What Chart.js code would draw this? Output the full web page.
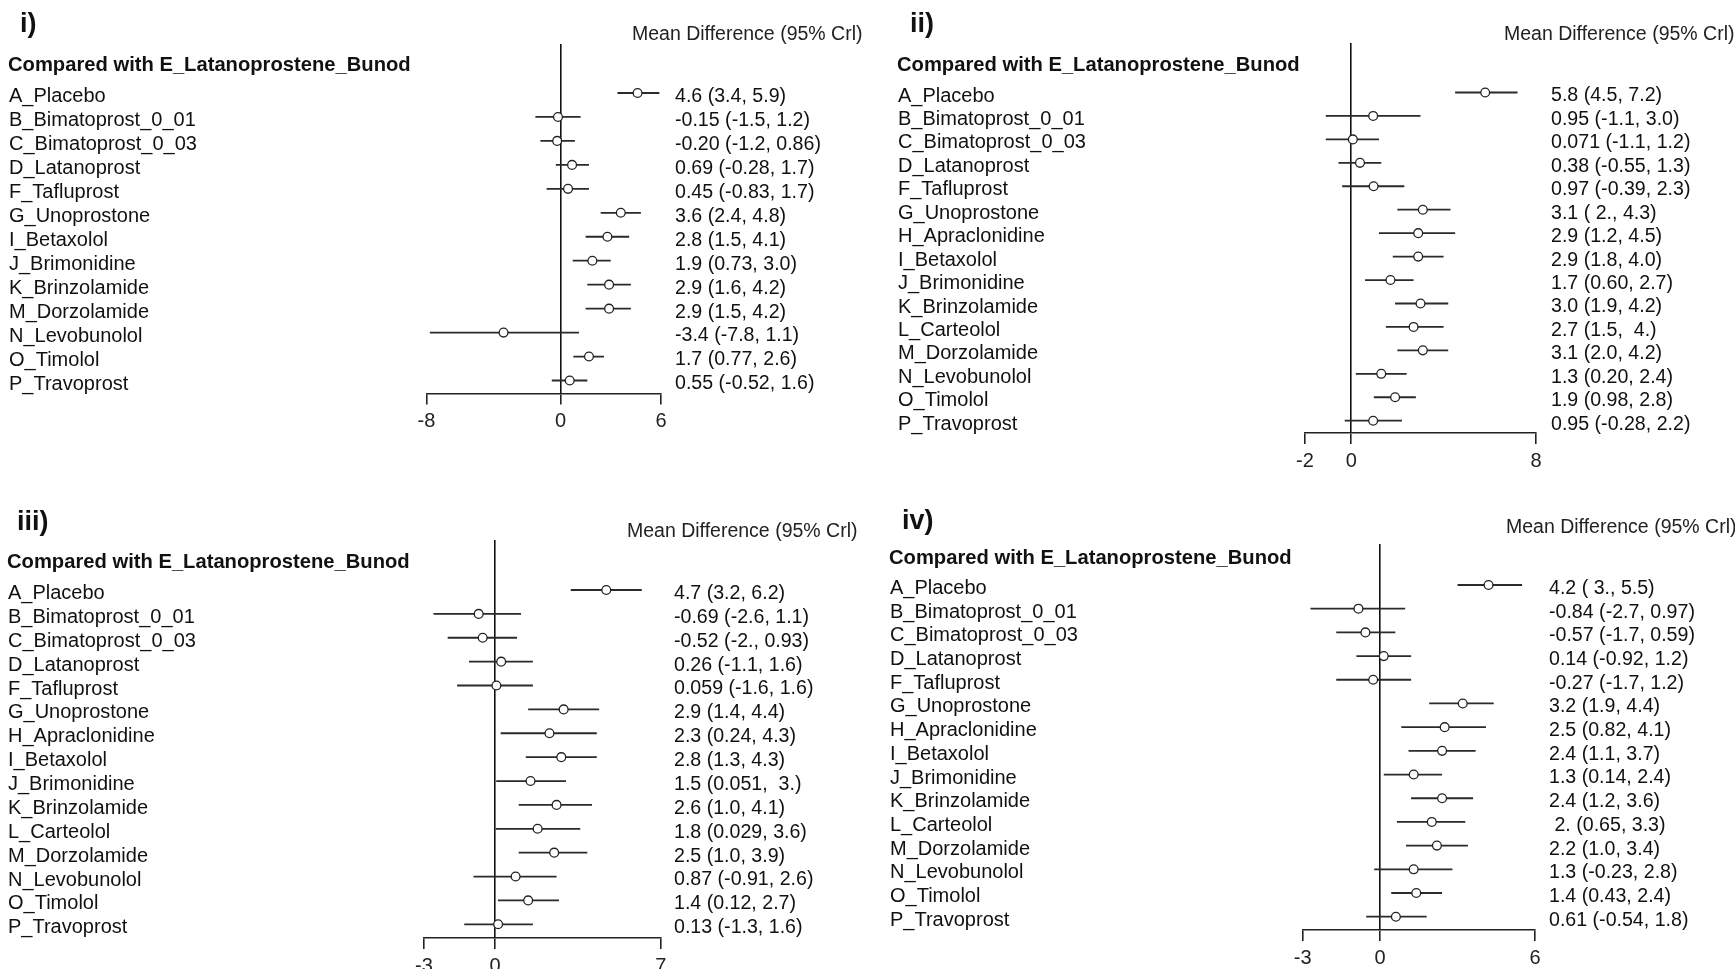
<!DOCTYPE html>
<html>
<head>
<meta charset="utf-8">
<script src="https://cdn.jsdelivr.net/npm/chart.js@4/dist/chart.umd.min.js"></script>
<style>
  html, body { margin: 0; padding: 0; background: #fff; overflow: hidden; }
  #wrap { position: relative; width: 1735px; height: 969px; }
  canvas { position: absolute; left: 0; top: 0; }
  .t { position: absolute; white-space: pre; color: #111; font-family: 'Liberation Sans', Arial, sans-serif; line-height: 1; }
  .num { font-weight: bold; font-size: 27px; }
  .hdr { font-weight: bold; font-size: 20.2px; }
  .md { font-size: 19.5px; color: #222; }
</style>
</head>
<body>
<div id="wrap">
  <canvas id="c1" width="1735" height="969"></canvas>
  <canvas id="c2" width="1735" height="969"></canvas>
  <canvas id="c3" width="1735" height="969"></canvas>
  <canvas id="c4" width="1735" height="969"></canvas>
</div>
<script>
// ---------- DATA ----------
const panelNames = ['i)', 'ii)', 'iii)', 'iv)'];
const headerText = 'Compared with E_Latanoprostene_Bunod';
const effectTitle = 'Mean Difference (95% Crl)';

const rows13 = ['A_Placebo','B_Bimatoprost_0_01','C_Bimatoprost_0_03','D_Latanoprost','F_Tafluprost','G_Unoprostone','I_Betaxolol','J_Brimonidine','K_Brinzolamide','M_Dorzolamide','N_Levobunolol','O_Timolol','P_Travoprost'];
const rows15 = ['A_Placebo','B_Bimatoprost_0_01','C_Bimatoprost_0_03','D_Latanoprost','F_Tafluprost','G_Unoprostone','H_Apraclonidine','I_Betaxolol','J_Brimonidine','K_Brinzolamide','L_Carteolol','M_Dorzolamide','N_Levobunolol','O_Timolol','P_Travoprost'];

// Panel i
const mean1 = [4.6, -0.15, -0.20, 0.69, 0.45, 3.6, 2.8, 1.9, 2.9, 2.9, -3.4, 1.7, 0.55];
const low1  = [3.4, -1.5, -1.2, -0.28, -0.83, 2.4, 1.5, 0.73, 1.6, 1.5, -7.8, 0.77, -0.52];
const high1 = [5.9, 1.2, 0.86, 1.7, 1.7, 4.8, 4.1, 3.0, 4.2, 4.2, 1.1, 2.6, 1.6];
const text1 = ['4.6 (3.4, 5.9)','-0.15 (-1.5, 1.2)','-0.20 (-1.2, 0.86)','0.69 (-0.28, 1.7)','0.45 (-0.83, 1.7)','3.6 (2.4, 4.8)','2.8 (1.5, 4.1)','1.9 (0.73, 3.0)','2.9 (1.6, 4.2)','2.9 (1.5, 4.2)','-3.4 (-7.8, 1.1)','1.7 (0.77, 2.6)','0.55 (-0.52, 1.6)'];
const ticks1 = [-8, 0, 6];

// Panel ii
const mean2 = [5.8, 0.95, 0.071, 0.38, 0.97, 3.1, 2.9, 2.9, 1.7, 3.0, 2.7, 3.1, 1.3, 1.9, 0.95];
const low2  = [4.5, -1.1, -1.1, -0.55, -0.39, 2.0, 1.2, 1.8, 0.60, 1.9, 1.5, 2.0, 0.20, 0.98, -0.28];
const high2 = [7.2, 3.0, 1.2, 1.3, 2.3, 4.3, 4.5, 4.0, 2.7, 4.2, 4.0, 4.2, 2.4, 2.8, 2.2];
const text2 = ['5.8 (4.5, 7.2)','0.95 (-1.1, 3.0)','0.071 (-1.1, 1.2)','0.38 (-0.55, 1.3)','0.97 (-0.39, 2.3)','3.1 ( 2., 4.3)','2.9 (1.2, 4.5)','2.9 (1.8, 4.0)','1.7 (0.60, 2.7)','3.0 (1.9, 4.2)','2.7 (1.5,  4.)','3.1 (2.0, 4.2)','1.3 (0.20, 2.4)','1.9 (0.98, 2.8)','0.95 (-0.28, 2.2)'];
const ticks2 = [-2, 0, 8];

// Panel iii
const mean3 = [4.7, -0.69, -0.52, 0.26, 0.059, 2.9, 2.3, 2.8, 1.5, 2.6, 1.8, 2.5, 0.87, 1.4, 0.13];
const low3  = [3.2, -2.6, -2.0, -1.1, -1.6, 1.4, 0.24, 1.3, 0.051, 1.0, 0.029, 1.0, -0.91, 0.12, -1.3];
const high3 = [6.2, 1.1, 0.93, 1.6, 1.6, 4.4, 4.3, 4.3, 3.0, 4.1, 3.6, 3.9, 2.6, 2.7, 1.6];
const text3 = ['4.7 (3.2, 6.2)','-0.69 (-2.6, 1.1)','-0.52 (-2., 0.93)','0.26 (-1.1, 1.6)','0.059 (-1.6, 1.6)','2.9 (1.4, 4.4)','2.3 (0.24, 4.3)','2.8 (1.3, 4.3)','1.5 (0.051,  3.)','2.6 (1.0, 4.1)','1.8 (0.029, 3.6)','2.5 (1.0, 3.9)','0.87 (-0.91, 2.6)','1.4 (0.12, 2.7)','0.13 (-1.3, 1.6)'];
const ticks3 = [-3, 0, 7];

// Panel iv
const mean4 = [4.2, -0.84, -0.57, 0.14, -0.27, 3.2, 2.5, 2.4, 1.3, 2.4, 2.0, 2.2, 1.3, 1.4, 0.61];
const low4  = [3.0, -2.7, -1.7, -0.92, -1.7, 1.9, 0.82, 1.1, 0.14, 1.2, 0.65, 1.0, -0.23, 0.43, -0.54];
const high4 = [5.5, 0.97, 0.59, 1.2, 1.2, 4.4, 4.1, 3.7, 2.4, 3.6, 3.3, 3.4, 2.8, 2.4, 1.8];
const text4 = ['4.2 ( 3., 5.5)','-0.84 (-2.7, 0.97)','-0.57 (-1.7, 0.59)','0.14 (-0.92, 1.2)','-0.27 (-1.7, 1.2)','3.2 (1.9, 4.4)','2.5 (0.82, 4.1)','2.4 (1.1, 3.7)','1.3 (0.14, 2.4)','2.4 (1.2, 3.6)',' 2. (0.65, 3.3)','2.2 (1.0, 3.4)','1.3 (-0.23, 2.8)','1.4 (0.43, 2.4)','0.61 (-0.54, 1.8)'];
const ticks4 = [-3, 0, 6];

// ---------- LAYOUT (pixel positions of each panel) ----------
const W = 1735, H = 969;
const FONT = "'Liberation Sans', Arial, sans-serif";
const TEXT_DROP = 3.5; // row text sits slightly below its marks
const layouts = [
  { labelX: 9,   plotLeft: 426.5, plotRight: 661,   valueX: 675,  top: 44,  firstY: 93,  lastY: 380.5, axisY: 393.5,
    numX: 20, numY: 23, hdrX: 8, hdrY: 64, mdX: 632, mdY: 34 },
  { labelX: 898, plotLeft: 1305,  plotRight: 1536,  valueX: 1551, top: 43,  firstY: 92.5, lastY: 420.7, axisY: 433,
    numX: 910, numY: 23, hdrX: 897, hdrY: 64, mdX: 1504, mdY: 34 },
  { labelX: 8,   plotLeft: 424,   plotRight: 660.7, valueX: 674,  top: 540, firstY: 590, lastY: 924.3, axisY: 938,
    numX: 17, numY: 521, hdrX: 7, hdrY: 561, mdX: 627, mdY: 531 },
  { labelX: 890, plotLeft: 1302.7, plotRight: 1535, valueX: 1549, top: 544, firstY: 585, lastY: 916.7, axisY: 930,
    numX: 902, numY: 520, hdrX: 889, hdrY: 557, mdX: 1506, mdY: 527 }
];

function addText(cls, txt, x, cy, size) {
  const d = document.createElement('div');
  d.className = 't ' + cls;
  d.textContent = txt;
  d.style.left = x + 'px';
  d.style.top = (cy - 0.49 * size) + 'px';
  document.getElementById('wrap').appendChild(d);
}

function makePanel(canvasId, L, rows, mean, lo, hi, texts, xTicks) {
  const n = rows.length;
  const pitch = (L.lastY - L.firstY) / (n - 1);
  const yMin = -(L.firstY - L.top) / pitch;
  const yMax = (n - 1) + (L.axisY - L.lastY) / pitch;
  const off = TEXT_DROP / pitch;
  const idx = rows.map((_, i) => i);
  const ciData = [];
  idx.forEach(i => { ciData.push({ x: lo[i], y: i }, { x: hi[i], y: i }, { x: null, y: null }); });
  const ptData = idx.map(i => ({ x: mean[i], y: i }));
  const rowTicks = s => { s.ticks = idx.map(v => ({ value: v })); };

  new Chart(document.getElementById(canvasId), {
    type: 'scatter',
    data: {
      datasets: [
        { data: ptData, order: 0, pointRadius: 4.4, pointBorderWidth: 1.3,
          pointBackgroundColor: '#fff', pointBorderColor: '#222', pointStyle: 'circle', showLine: false, clip: false },
        { data: ciData, order: 1, showLine: true, spanGaps: false, pointRadius: 0,
          borderColor: '#2a2a2a', borderWidth: 1.8, clip: false }
      ]
    },
    options: {
      responsive: false, animation: false, events: [],
      layout: { padding: { left: L.labelX, top: L.top, right: 0, bottom: 0 } },
      plugins: { legend: { display: false }, tooltip: { enabled: false } },
      scales: {
        x: {
          type: 'linear', position: 'bottom', min: xTicks[0], max: xTicks[xTicks.length - 1],
          afterBuildTicks: s => { s.ticks = xTicks.map(v => ({ value: v })); },
          afterFit: s => { s.height = H - L.axisY; },
          grid: {
            drawOnChartArea: true, drawTicks: true, tickLength: 11, tickColor: '#222', tickWidth: 1.6,
            lineWidth: 1.6, color: c => (c.tick && c.tick.value === 0) ? '#111' : 'rgba(0,0,0,0)'
          },
          border: { display: true, color: '#222', width: 1.6 },
          ticks: { font: { family: FONT, size: 20 }, color: '#222', padding: 5, autoSkip: false, maxRotation: 0,
                   callback: v => String(v) }
        },
        y: {
          type: 'linear', position: 'left', reverse: true, min: yMin, max: yMax,
          display: false
        },
        yl: {
          type: 'linear', position: 'left', reverse: true, min: yMin - off, max: yMax - off,
          afterBuildTicks: rowTicks,
          afterFit: s => { s.width = L.plotLeft - L.labelX; },
          grid: { display: false, drawTicks: false }, border: { display: false },
          ticks: { crossAlign: 'far', padding: 0, autoSkip: false, font: { family: FONT, size: 20 }, color: '#111',
                   callback: v => rows[v] }
        },
        yr: {
          type: 'linear', position: 'right', reverse: true, min: yMin - off, max: yMax - off,
          afterBuildTicks: rowTicks,
          afterFit: s => { s.width = W - L.plotRight; },
          grid: { display: false, drawTicks: false }, border: { display: false },
          ticks: { crossAlign: 'near', padding: L.valueX - L.plotRight, autoSkip: false, font: { family: FONT, size: 19.6 }, color: '#111',
                   callback: v => texts[v] }
        }
      }
    }
  });

  const k = canvasId.slice(1) - 1;
  addText('num', panelNames[k], L.numX, L.numY, 27);
  addText('hdr', headerText, L.hdrX, L.hdrY, 20.2);
  addText('md', effectTitle, L.mdX, L.mdY, 19.5);
}

makePanel('c1', layouts[0], rows13, mean1, low1, high1, text1, ticks1);
makePanel('c2', layouts[1], rows15, mean2, low2, high2, text2, ticks2);
makePanel('c3', layouts[2], rows15, mean3, low3, high3, text3, ticks3);
makePanel('c4', layouts[3], rows15, mean4, low4, high4, text4, ticks4);
</script>
</body>
</html>
